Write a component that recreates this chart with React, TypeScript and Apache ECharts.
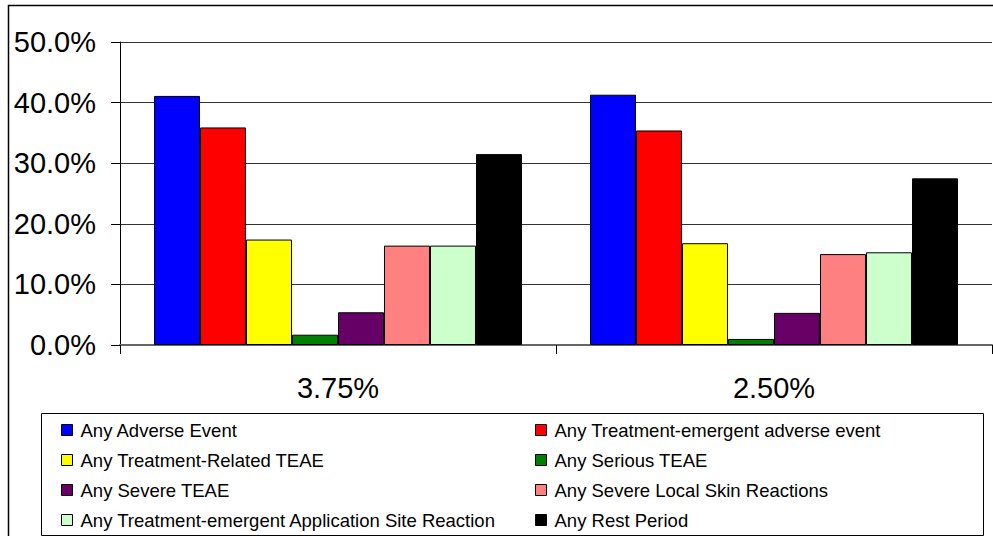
import React, { useEffect, useRef } from "react";
import * as echarts from "echarts";

const categories = ["3.75%", "2.50%"];
const seriesNames = [
  "Any Adverse Event",
  "Any Treatment-emergent adverse event",
  "Any Treatment-Related TEAE",
  "Any Serious TEAE",
  "Any Severe TEAE",
  "Any Severe Local Skin Reactions",
  "Any Treatment-emergent Application Site Reaction",
  "Any Rest Period",
];
const seriesColors = ["#0000FF", "#FF0000", "#FFFF00", "#008000", "#660066", "#FF8080", "#CCFFCC", "#000000"];
const valuesHigh = [41.1, 35.9, 17.4, 1.7, 5.4, 16.4, 16.4, 31.5];
const valuesLow = [41.3, 35.4, 16.8, 1.0, 5.3, 15.0, 15.3, 27.5];
const yTicks = [0, 10, 20, 30, 40, 50];

const FONT = "'Liberation Sans', Arial, sans-serif";

export default function App() {
  const ref = useRef<HTMLDivElement>(null);
  useEffect(() => {
    if (!ref.current) return;
    const chart = echarts.init(ref.current, null, { renderer: "svg" });
    const legendCol = (idx: number[], left: number) => ({
      orient: "vertical" as const,
      left,
      top: 420,
      height: 114,
      padding: 0,
      itemWidth: 11,
      itemHeight: 11,
      itemGap: 10,
      icon: "rect",
      itemStyle: { borderColor: "#000", borderWidth: 1 },
      textStyle: { fontSize: 18.5, fontFamily: FONT, color: "#000", lineHeight: 20, padding: [0, 0, 0, 3] },
      data: idx.map((i) => seriesNames[i]),
    });
    chart.setOption({
      animation: false,
      backgroundColor: "#fff",
      graphic: [
        { type: "rect", shape: { x: 8.5, y: 5.5, width: 990, height: 540 }, style: { fill: "none", stroke: "#000", lineWidth: 1.5 }, z: 0 },
        { type: "rect", shape: { x: 41.5, y: 413.5, width: 942, height: 122 }, style: { fill: "#fff", stroke: "#000", lineWidth: 1 }, z: 1 },
      ],
      legend: [legendCol([0, 2, 4, 6], 61), legendCol([1, 3, 5, 7], 535)],
      grid: { left: 120, right: 1, top: 42, bottom: 191, containLabel: false },
      xAxis: {
        type: "category",
        data: categories,
        axisLine: { lineStyle: { color: "#666", width: 2 } },
        axisTick: { show: true, length: 9, lineStyle: { color: "#000", width: 1 } },
        axisLabel: { fontSize: 29, fontFamily: FONT, color: "#000", margin: 28 },
      },
      yAxis: {
        type: "value",
        min: yTicks[0],
        max: yTicks[yTicks.length - 1],
        interval: 10,
        axisLine: { show: true, lineStyle: { color: "#000", width: 1 } },
        axisTick: { show: true, length: 9, lineStyle: { color: "#000" } },
        axisLabel: { fontSize: 29, fontFamily: FONT, color: "#000", margin: 24, formatter: (v: number) => `${v.toFixed(1)}%` },
        splitLine: { show: true, lineStyle: { color: "#333", width: 1 } },
      },
      series: seriesNames.map((name, i) => ({
        name,
        type: "bar",
        data: [valuesHigh[i], valuesLow[i]],
        barGap: "0%",
        barCategoryGap: "15.6%",
        itemStyle: { color: seriesColors[i], borderColor: "#000", borderWidth: 1 },
      })),
    });
    return () => chart.dispose();
  }, []);
  return <div ref={ref} style={{ position: "absolute", left: 0, top: 0, width: 993, height: 536 }} />;
}
